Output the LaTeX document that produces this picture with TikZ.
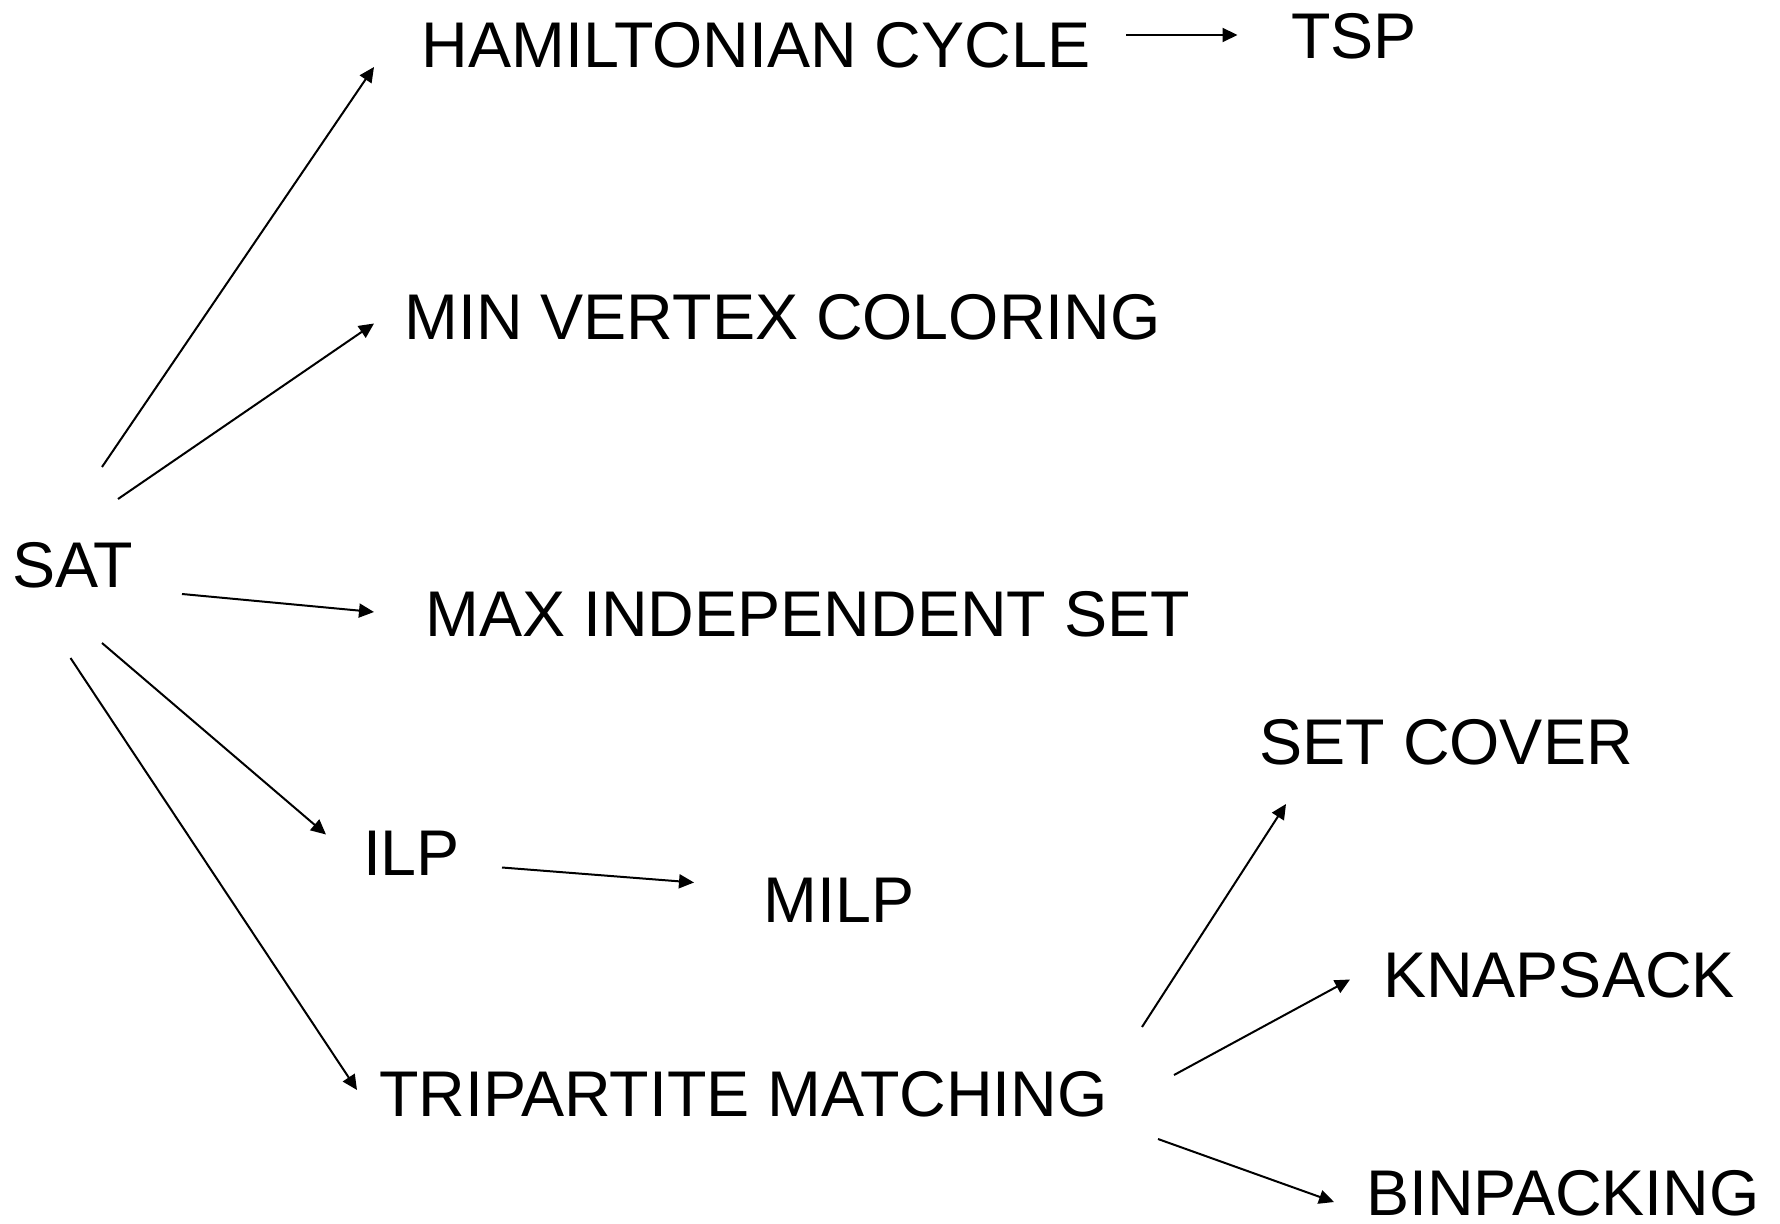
\documentclass[tikz,border=0pt]{standalone}
\usepackage{fontspec}
\setmainfont{Liberation Sans}
\usetikzlibrary{arrows.meta}
\begin{document}
\begin{tikzpicture}[x=0.5pt,y=-0.5pt,
  lbl/.style={anchor=base west,inner sep=0pt,outer sep=0pt,font=\fontsize{32.3pt}{38pt}\selectfont},
  conn/.style={line width=1pt,-{Triangle[length=7.5pt,width=7pt]}}]
\useasboundingbox[fill=white] (0,0) rectangle (1780,1224);
% labels
\node[lbl] (sat) at (12.5,587) {SAT};
\node[lbl] (ham) at (421.5,68) {HAMILTONIAN CYCLE};
\node[lbl] (tsp) at (1291,59) {TSP};
\node[lbl] (mvc) at (404.5,340) {MIN VERTEX COLORING};
\node[lbl] (mis) at (425.5,636) {MAX INDEPENDENT SET};
\node[lbl] (setc) at (1259.5,764) {SET COVER};
\node[lbl] (ilp) at (363,875) {ILP};
\node[lbl] (milp) at (763.5,922) {MILP};
\node[lbl] (knap) at (1383,997) {KNAPSACK};
\node[lbl] (tri) at (379,1116) {TRIPARTITE MATCHING};
\node[lbl,text depth=0pt] (bin) at (1366,1215) {BINPACKING};
% connector end points
\coordinate (s1) at (102,467);  \coordinate (e1) at (374,67);
\coordinate (s2) at (118,499);  \coordinate (e2) at (374,323.5);
\coordinate (s3) at (182,594);  \coordinate (e3) at (374,612);
\coordinate (s4) at (102,643);  \coordinate (e4) at (326,834.5);
\coordinate (s5) at (70.5,658); \coordinate (e5) at (357,1090);
\coordinate (s6) at (1126,35);  \coordinate (e6) at (1237.5,35);
\coordinate (s7) at (502,867.5);\coordinate (e7) at (694,882.5);
\coordinate (s8) at (1142,1027);\coordinate (e8) at (1286,804);
\coordinate (s9) at (1174,1075);\coordinate (e9) at (1350,979.5);
\coordinate (s10) at (1158,1139);\coordinate (e10) at (1334,1202);
% connectors
\draw[conn] (s1) -- (e1);
\draw[conn] (s2) -- (e2);
\draw[conn] (s3) -- (e3);
\draw[conn] (s4) -- (e4);
\draw[conn] (s5) -- (e5);
\draw[conn] (s6) -- (e6);
\draw[conn] (s7) -- (e7);
\draw[conn] (s8) -- (e8);
\draw[conn] (s9) -- (e9);
\draw[conn] (s10) -- (e10);
\end{tikzpicture}
\end{document}
